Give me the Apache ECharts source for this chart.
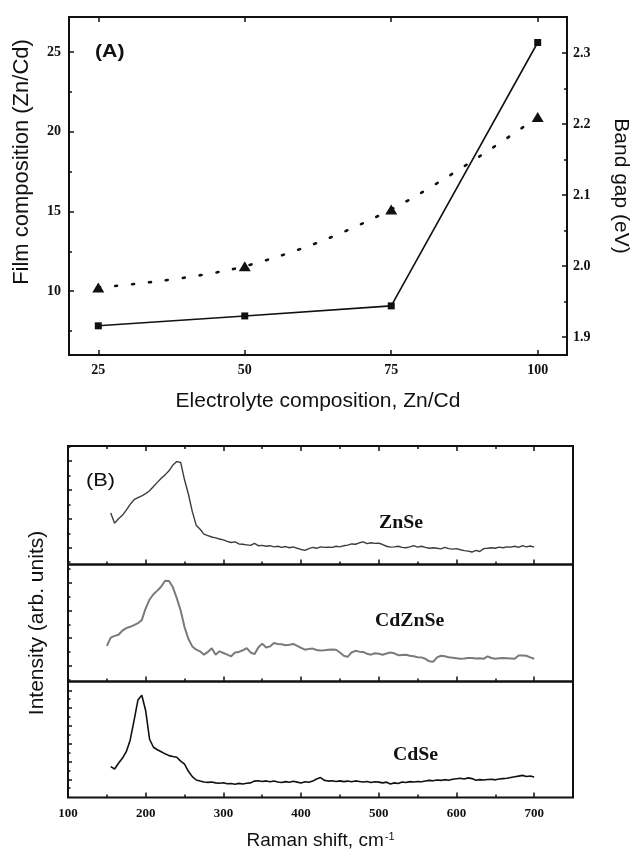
<!DOCTYPE html>
<html><head><meta charset="utf-8">
<script src="https://cdn.jsdelivr.net/npm/echarts@6/dist/echarts.min.js"></script>
<style>html,body{margin:0;padding:0;background:#fff}#c{width:631px;height:849px}</style>
</head><body><div id="c"></div>
<script>
// ---------- Panel (A) data ----------
const electrolyteZnCd = [25, 50, 75, 100];
const filmZnCd = [7.83, 8.45, 9.08, 25.6];
const bandGapEV = [1.97, 2.00, 2.08, 2.21];
const electrolyteTicks = [25, 50, 75, 100];
const filmTicks = [10, 15, 20, 25];
const filmMinorTicks = [7.5, 12.5, 17.5, 22.5];
const gapTicks = [1.9, 2.0, 2.1, 2.2, 2.3];
const gapMinorTicks = [1.95, 2.05, 2.15, 2.25];

// ---------- Panel (B) data ----------
const ramanShift = [
  150,155,160,165,170,175,180,185,190,195,
  200,205,210,215,220,225,230,235,240,245,
  250,255,260,265,270,275,280,285,290,295,
  300,305,310,315,320,325,330,335,340,345,
  350,355,360,365,370,375,380,385,390,395,
  400,405,410,415,420,425,430,435,440,445,
  450,455,460,465,470,475,480,485,490,495,
  500,505,510,515,520,525,530,535,540,545,
  550,555,560,565,570,575,580,585,590,595,
  600,605,610,615,620,625,630,635,640,645,
  650,655,660,665,670,675,680,685,690,695,
  700
];
const intensityZnSe = [
  null,1.20,0.85,1.00,1.12,1.30,1.50,1.66,1.73,1.79,
  1.87,1.97,2.12,2.26,2.40,2.52,2.66,2.86,2.98,2.95,
  2.35,1.85,1.25,0.78,0.64,0.47,0.42,0.37,0.34,0.30,
  0.27,0.22,0.18,0.20,0.13,0.12,0.10,0.08,0.15,0.07,
  0.08,0.05,0.07,0.03,0.05,0.01,0.04,0.00,0.03,-0.02,
  -0.06,-0.09,-0.03,0.01,-0.02,0.03,0.01,0.02,0.01,0.05,
  0.03,0.07,0.09,0.13,0.12,0.17,0.20,0.14,0.17,0.15,
  0.16,0.11,0.05,0.02,0.03,0.05,0.01,0.00,0.03,0.07,
  0.02,0.05,0.01,-0.02,0.00,-0.02,-0.04,0.01,-0.03,-0.05,
  -0.03,-0.07,-0.10,-0.12,-0.15,-0.09,-0.13,-0.03,-0.02,0.00,
  -0.02,0.02,0.00,0.03,0.02,0.05,0.01,0.07,0.03,0.06,
  0.02
];
const intensityCdZnSe = [
  0.72,1.02,1.08,1.12,1.27,1.36,1.41,1.47,1.54,1.66,
  2.08,2.40,2.59,2.72,2.87,3.08,3.07,2.84,2.45,2.00,
  1.40,0.97,0.70,0.58,0.52,0.40,0.50,0.63,0.40,0.52,
  0.46,0.40,0.34,0.48,0.50,0.56,0.64,0.48,0.42,0.66,
  0.80,0.66,0.70,0.82,0.79,0.78,0.74,0.76,0.79,0.72,
  0.65,0.58,0.61,0.62,0.57,0.55,0.56,0.58,0.59,0.58,
  0.48,0.36,0.32,0.48,0.54,0.51,0.50,0.43,0.40,0.45,
  0.43,0.40,0.44,0.48,0.45,0.38,0.39,0.40,0.36,0.34,
  0.31,0.30,0.25,0.16,0.14,0.30,0.36,0.34,0.31,0.29,
  0.27,0.25,0.26,0.28,0.28,0.26,0.27,0.25,0.34,0.28,
  0.25,0.27,0.28,0.27,0.26,0.25,0.37,0.37,0.36,0.30,
  0.25
];
const intensityCdSe = [
  null,0.71,0.58,0.90,1.18,1.55,2.20,3.30,4.45,4.72,
  3.85,2.25,1.80,1.66,1.55,1.43,1.33,1.28,1.24,1.02,
  0.85,0.45,0.15,-0.04,-0.10,-0.15,-0.17,-0.15,-0.20,-0.22,
  -0.19,-0.25,-0.24,-0.28,-0.23,-0.26,-0.22,-0.20,-0.10,-0.08,
  -0.12,-0.09,-0.14,-0.10,-0.15,-0.18,-0.13,-0.17,-0.11,-0.16,
  -0.21,-0.14,-0.17,-0.10,0.02,0.10,-0.06,-0.10,-0.08,-0.12,
  -0.09,-0.13,-0.10,-0.14,-0.09,-0.12,-0.15,-0.12,-0.18,-0.14,
  -0.16,-0.20,-0.16,-0.26,-0.20,-0.24,-0.15,-0.18,-0.13,-0.15,
  -0.12,-0.14,-0.10,-0.06,-0.08,-0.04,-0.06,-0.02,-0.05,0.00,
  0.03,0.06,0.02,0.08,0.04,-0.05,-0.02,-0.04,-0.01,0.00,
  -0.03,0.02,0.04,0.06,0.10,0.14,0.18,0.22,0.16,0.19,
  0.13
];
const ramanTicks = [100, 200, 300, 400, 500, 600, 700];
const ramanMinorTicks = [150, 250, 350, 450, 550, 650];
const znseTicks = [0, 1, 2, 3];
const znseMinorTicks = [-0.5, 0.5, 1.5, 2.5, 3.5];
const cdznseTicks = [0, 1, 2, 3];
const cdznseMinorTicks = [-0.5, 0.5, 1.5, 2.5, 3.5];
const cdseTicks = [0, 1, 2, 3, 4, 5];
const cdseMinorTicks = [-0.5, 0.5, 1.5, 2.5, 3.5, 4.5];
const spectrumNames = ['ZnSe', 'CdZnSe', 'CdSe'];

// ---------- build ----------
const INK = '#111';
const SANS = 'Liberation Sans, Arial, sans-serif';
const SERIF = 'Liberation Serif, Times New Roman, serif';

function axis(o) {
  const a = {
    type: 'value', gridIndex: o.grid, position: o.pos, min: o.min, max: o.max,
    axisLine: {show: false, onZero: false}, splitLine: {show: false},
    axisTick: {show: true, inside: true, length: o.len || 5, customValues: o.ticks,
               lineStyle: {color: INK, width: 1.5}},
    axisLabel: {show: false}
  };
  if (o.labels) {
    a.axisLabel = {show: true, customValues: o.ticks, color: INK, fontFamily: SERIF,
      fontWeight: 'bold', fontSize: o.fs || 14, margin: o.margin || 8,
      formatter: o.fmt || (v => String(v))};
  }
  if (o.name) {
    a.name = o.name; a.nameLocation = 'middle'; a.nameGap = o.nameGap;
    if (o.nameRotate !== undefined) a.nameRotate = o.nameRotate;
    a.nameTextStyle = Object.assign({color: INK, fontFamily: SANS, fontSize: o.nameSize || 20}, o.nameStyle || {});
  }
  return a;
}

const grids = [
  {left: 69, top: 17, width: 498, height: 338},
  {left: 68, top: 446, width: 505, height: 118.5},
  {left: 68, top: 564.5, width: 505, height: 117},
  {left: 68, top: 681.5, width: 505, height: 116}
].map(g => Object.assign(g, {show: true, borderColor: INK, borderWidth: 2,
  backgroundColor: 'transparent', outerBoundsMode: 'none', containLabel: false}));

const xAxes = [], yAxes = [], series = [];

// Panel A axes
xAxes.push(axis({grid: 0, pos: 'bottom', min: 20, max: 105, ticks: electrolyteTicks, labels: true,
  name: 'Electrolyte composition, Zn/Cd', nameGap: 36, nameSize: 21}));
xAxes.push(axis({grid: 0, pos: 'top', min: 20, max: 105, ticks: electrolyteTicks}));
const filmAxis = yAxes.length;
yAxes.push(axis({grid: 0, pos: 'left', min: 6, max: 27.2, ticks: filmTicks, labels: true,
  name: 'Film composition (Zn/Cd)', nameGap: 36, nameRotate: 90, nameSize: 22,
  nameStyle: {padding: [0, 0, 0, 48]}}));
yAxes.push(axis({grid: 0, pos: 'left', min: 6, max: 27.2, ticks: filmMinorTicks, len: 3}));
const gapAxis = yAxes.length;
yAxes.push(axis({grid: 0, pos: 'right', min: 1.875, max: 2.351, ticks: gapTicks, labels: true,
  fmt: v => Number(v).toFixed(1), margin: 6,
  name: 'Band gap (eV)', nameGap: 43, nameRotate: -90, nameSize: 21}));
yAxes.push(axis({grid: 0, pos: 'right', min: 1.875, max: 2.351, ticks: gapMinorTicks, len: 3}));

series.push({type: 'line', xAxisIndex: 0, yAxisIndex: filmAxis,
  data: electrolyteZnCd.map((x, i) => [x, filmZnCd[i]]),
  symbol: 'rect', symbolSize: 7, itemStyle: {color: INK},
  lineStyle: {color: INK, width: 1.6}, z: 3});
series.push({type: 'line', xAxisIndex: 0, yAxisIndex: gapAxis, smooth: 0.35,
  data: electrolyteZnCd.map((x, i) => [x, bandGapEV[i]]),
  symbol: 'triangle', symbolSize: [12, 10], itemStyle: {color: INK},
  lineStyle: {color: INK, width: 2.6, type: [2, 15], cap: 'round'}, z: 3});

// Panel B axes
const panels = [
  {y: intensityZnSe, ticks: znseTicks, minor: znseMinorTicks, min: -0.581, max: 3.519, color: '#3c3c3c', width: 1.4},
  {y: intensityCdZnSe, ticks: cdznseTicks, minor: cdznseMinorTicks, min: -0.572, max: 3.667, color: '#7a7a7a', width: 2},
  {y: intensityCdSe, ticks: cdseTicks, minor: cdseMinorTicks, min: -1.022, max: 5.494, color: '#111', width: 1.6}
];
panels.forEach((p, k) => {
  const g = k + 1;
  const xi = xAxes.length;
  const last = k === 2;
  xAxes.push(axis(Object.assign({grid: g, pos: 'bottom', min: 100, max: 750, ticks: ramanTicks,
    labels: last, fs: 13, margin: 10},
    last ? {name: '{a|Raman shift, cm}{b|-1}', nameGap: 34} : {})));
  if (last) {
    xAxes[xi].nameTextStyle.rich = {
      a: {fontFamily: SANS, fontSize: 19, color: INK},
      b: {fontFamily: SANS, fontSize: 11, color: INK, verticalAlign: 'top', padding: [0, 0, 8, 1]}
    };
  }
  xAxes.push(axis({grid: g, pos: 'bottom', min: 100, max: 750, ticks: ramanMinorTicks, len: 3}));
  if (k === 0) {
    xAxes.push(axis({grid: g, pos: 'top', min: 100, max: 750, ticks: ramanTicks}));
    xAxes.push(axis({grid: g, pos: 'top', min: 100, max: 750, ticks: ramanMinorTicks, len: 3}));
  }
  const yi = yAxes.length;
  yAxes.push(axis(Object.assign({grid: g, pos: 'left', min: p.min, max: p.max, ticks: p.ticks, len: 4},
    k === 1 ? {name: 'Intensity (arb. units)', nameGap: 20, nameRotate: 90, nameSize: 21} : {})));
  yAxes.push(axis({grid: g, pos: 'left', min: p.min, max: p.max, ticks: p.minor, len: 2.5}));
  series.push({type: 'line', name: spectrumNames[k], xAxisIndex: xi, yAxisIndex: yi,
    data: ramanShift.map((x, i) => [x, p.y[i]]).filter(d => d[1] !== null),
    symbol: 'none', lineStyle: {color: p.color, width: p.width}, z: 3});
});

const chart = echarts.init(document.getElementById('c'), null, {renderer: 'canvas'});
chart.setOption({
  backgroundColor: '#fff',
  animation: false,
  grid: grids,
  xAxis: xAxes,
  yAxis: yAxes,
  series: series,
  graphic: [
    {type: 'text', left: 95, top: 42, style: {text: '(A)', fill: INK, font: 'bold 19px ' + SANS}, scaleX: 1.12},
    {type: 'text', left: 86, top: 471, style: {text: '(B)', fill: INK, font: '19px ' + SANS}, scaleX: 1.15},
    {type: 'text', left: 379, top: 514, style: {text: spectrumNames[0], fill: INK, font: 'bold 18px ' + SERIF}, scaleX: 1.1},
    {type: 'text', left: 375, top: 612, style: {text: spectrumNames[1], fill: INK, font: 'bold 18px ' + SERIF}, scaleX: 1.1},
    {type: 'text', left: 393, top: 746, style: {text: spectrumNames[2], fill: INK, font: 'bold 18px ' + SERIF}, scaleX: 1.1}
  ]
});
</script>
</body></html>
